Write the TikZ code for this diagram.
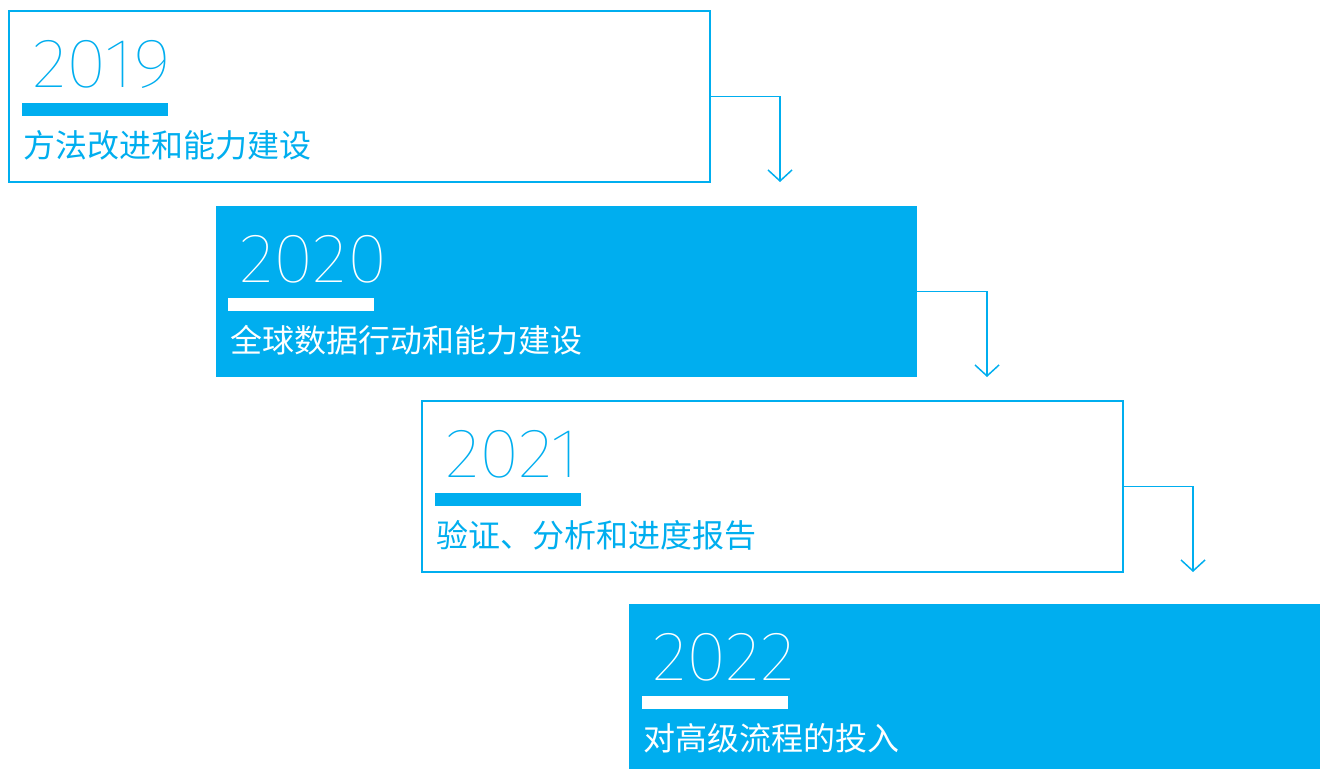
\documentclass[tikz,border=0pt]{standalone}
\usepackage{fontspec}
\usetikzlibrary{arrows.meta,calc}
\newfontfamily\cjk{Noto Sans CJK SC}
\IfFontExistsTF{Fira Sans Thin}
  {\newfontfamily\yearfont{Fira Sans Thin}[FakeStretch=1.06]}
  {\IfFontExistsTF{FiraSans-Thin.otf}
    {\newfontfamily\yearfont{FiraSans-Thin.otf}[FakeStretch=1.06]}
    {\IfFontExistsTF{Fira Sans ExtraLight}
      {\newfontfamily\yearfont{Fira Sans ExtraLight}[FakeStretch=1.06]}
      {\IfFontExistsTF{FiraSans-Light.otf}
        {\newfontfamily\yearfont{FiraSans-Light.otf}[FakeStretch=1.06]}
        {\IfFontExistsTF{Fira Sans Light}
          {\newfontfamily\yearfont{Fira Sans Light}[FakeStretch=1.06]}
          {\IfFontExistsTF{Lato Hairline}
            {\newfontfamily\yearfont{Lato Hairline}}
            {\IfFontExistsTF{Lato Light}
              {\newfontfamily\yearfont{Lato Light}}
              {\newfontfamily\yearfont{Fira Sans}}}}}}}}
\definecolor{brand}{HTML}{00AEEF}
\tikzset{
  boxbase/.style={rectangle, inner sep=0pt, outer sep=0pt, anchor=north west,
    minimum width=701pt, minimum height=171pt},
  openbox/.style={boxbase, draw=brand, line width=1.5pt, fill=white},
  fullbox/.style={boxbase, fill=brand},
  yeartext/.style={anchor=base west, inner sep=0pt, font=\yearfont\fontsize{70}{70}\selectfont},
  barline/.style={rectangle, inner sep=0pt, anchor=north west, minimum width=146pt, minimum height=13pt},
  label/.style={anchor=base west, inner sep=0pt, font=\cjk\fontsize{32}{32}\selectfont},
  conn/.style={draw=brand, line width=1.5pt, -{Straight Barb[length=11pt,width=24pt]}},
}
\begin{document}
\begin{tikzpicture}[x=1pt,y=-1pt]
\useasboundingbox (0,0) rectangle (1320,769);
% boxes
\node[openbox] (b1) at (9,11) {};
\node[fullbox] (b2) at (216,206) {};
\node[openbox] (b3) at (422,401) {};
\node[fullbox, minimum width=691pt, minimum height=165pt] (b4) at (629,604) {};
% connectors
\coordinate (t1) at ($(b1.south east)+(70,0)$);
\coordinate (t2) at ($(b2.south east)+(70,0)$);
\coordinate (t3) at ($(b3.south east)+(70,0)$);
\draw[conn] (b1.east) -| (t1);
\draw[conn] (b2.east) -| (t2);
\draw[conn] (b3.east) -| (t3);
% contents
\node[yeartext, text=brand] (y1) at ($(b1.north west)+(23,76)$) {2019};
\node[barline, fill=brand] (r1) at ($(b1.north west)+(13,92)$) {};
\node[label, text=brand] (l1) at ($(b1.north west)+(14,146)$) {方法改进和能力建设};

\node[yeartext, text=white] (y2) at ($(b2.north west)+(23,76)$) {2020};
\node[barline, fill=white] (r2) at ($(b2.north west)+(12,92)$) {};
\node[label, text=white] (l2) at ($(b2.north west)+(14,146)$) {全球数据行动和能力建设};

\node[yeartext, text=brand] (y3) at ($(b3.north west)+(23,76)$) {2021};
\node[barline, fill=brand] (r3) at ($(b3.north west)+(13,92)$) {};
\node[label, text=brand] (l3) at ($(b3.north west)+(14,146)$) {验证、分析和进度报告};

\node[yeartext, text=white] (y4) at ($(b4.north west)+(23,76)$) {2022};
\node[barline, fill=white] (r4) at ($(b4.north west)+(13,92)$) {};
\node[label, text=white] (l4) at ($(b4.north west)+(14,146)$) {对高级流程的投入};
\end{tikzpicture}
\end{document}
